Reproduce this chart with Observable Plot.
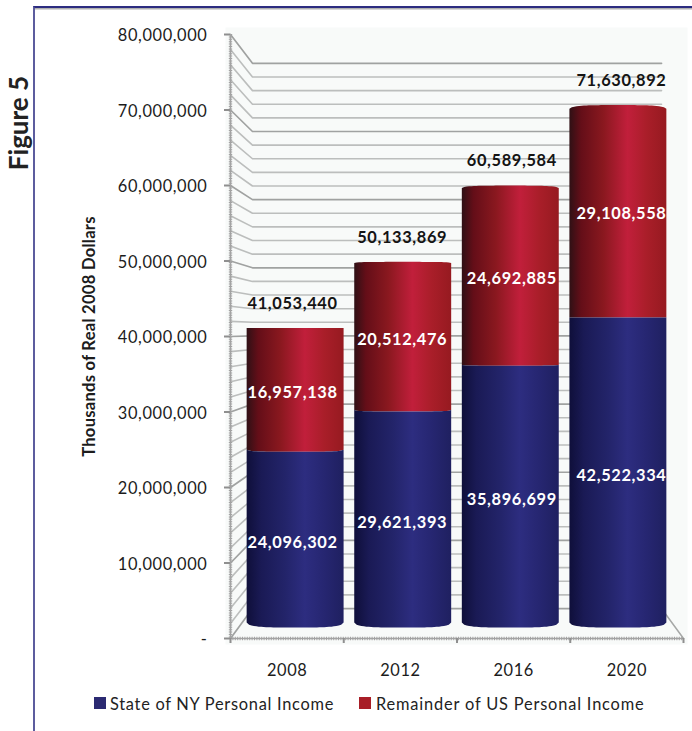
<!DOCTYPE html>
<html>
<head>
<meta charset="utf-8">
<script src="https://cdn.jsdelivr.net/npm/d3@7"></script>
<script src="https://cdn.jsdelivr.net/npm/@observablehq/plot@0.6"></script>
<style>
  html, body { margin: 0; padding: 0; background: #fff; }
  body { position: relative; width: 692px; height: 731px; overflow: hidden; font-family: Lato, "Open Sans", sans-serif; color: #1c1c1c; }
  #chart { position: absolute; left: 0; top: 0; }
  #chart svg { letter-spacing: 0.62px; }
  #chart [aria-label="y-axis label"] { font-weight: 700; font-size: 16.6px; letter-spacing: 0.25px; }
  #chart [aria-label="y-axis tick label"] { translate: 0 1.5px; }
  .sheet { position: absolute; left: 33px; top: 6px; right: 0; bottom: 0; border-top: 2px solid #2c2c80; border-left: 2.5px solid #5c5c9e; box-shadow: inset 0 1.5px 0 #b0b0b0; }
  .figure { position: absolute; left: 18px; top: 123px; transform: translate(-50%, -50%) rotate(-90deg); font-weight: 700; font-size: 26px; white-space: nowrap; color: #222; }
  .swatch { position: absolute; top: 697px; width: 11.5px; height: 12px; }
  .entry { position: absolute; top: 694px; font-size: 16.4px; letter-spacing: 0.72px; white-space: nowrap; color: #222; }
</style>
</head>
<body>
<div class="sheet"></div>
<div class="figure">Figure 5</div>
<div id="chart"></div>
<div class="swatch" style="left:94px;background:#2b2a72"></div>
<div class="entry" style="left:110px">State of NY Personal Income</div>
<div class="swatch" style="left:359px;background:#a81e27"></div>
<div class="entry" style="left:376px;letter-spacing:0.82px">Remainder of US Personal Income</div>
<script>
const years = ["2008", "2012", "2016", "2020"];
const nyIncome = [24096302, 29621393, 35896699, 42522334];
const usRemainder = [16957138, 20512476, 24692885, 29108558];
const totals = [41053440, 50133869, 60589584, 71630892];

const yTicks = d3.range(0, 80000001, 10000000);
const wallLevels = d3.range(0, 80000001, 2000000);

// Pseudo-3D box: each depth plane shrinks toward the centre of the x domain
// and maps a value onto the height it reaches on the front-plane y scale.
const slotX = k => s => 2 + (s - 2) * k;
const backX = slotX(0.903), barX = slotX(0.95), labelX = slotX(0.968);
const backY = v => 3.97e6 + 0.9026 * v;
const barY = v => 1.39e6 + 0.966 * v;

// The cylinder's rim curves down at the base and up near the top of the chart.
const rim = v => (5 * (1 - v / 41e6)) / 7.55e-6;
const halfWidth = 0.428;
const cylinderEdge = d3.range(-1, 1.0001, 0.05);

function cylinder(i, lo, hi, key) {
  return cylinderEdge.map(t => {
    const bulge = 1 - Math.pow(Math.max(0, 1 - t * t * t * t), 0.5);
    return {
      key: key + i,
      x: barX(i + 0.5) + t * halfWidth,
      lo: barY(lo) + rim(lo) * bulge,
      hi: barY(hi) + rim(hi) * bulge
    };
  });
}
const redBars = years.flatMap((_, i) => cylinder(i, nyIncome[i], totals[i], "us"));
const blueBars = years.flatMap((_, i) => cylinder(i, 0, nyIncome[i], "ny"));

const table = years.map((year, i) => ({
  year,
  slot: i + 0.5,
  x: labelX(i + 0.5),
  ny: nyIncome[i],
  us: usRemainder[i],
  total: totals[i],
  nyMid: barY(nyIncome[i] / 2),
  usMid: barY(nyIncome[i] + usRemainder[i] / 2),
  top: barY(totals[i])
}));

const wallPaths = wallLevels.flatMap(v => [
  { v, x: 0, y: v, major: v % 10000000 === 0 },
  { v, x: backX(0), y: backY(v), major: v % 10000000 === 0 },
  { v, x: backX(4), y: backY(v), major: v % 10000000 === 0 }
]);

const fmt = d3.format(",");
const plot = Plot.plot({
  width: 692,
  height: 731,
  marginLeft: 230,
  marginRight: 9,
  marginTop: 34,
  marginBottom: 93,
  style: { background: "transparent", fontFamily: "Lato, 'Open Sans', sans-serif", color: "#1c1c1c", overflow: "visible" },
  x: { domain: [0, 4], axis: null },
  y: { domain: [0, 80000000], axis: null },
  marks: [
    Plot.frame({ fill: "#f8faf9", stroke: null, insetLeft: -5, insetRight: -4, insetTop: -7, insetBottom: -6 }),
    Plot.line(wallPaths.filter(d => !d.major), { x: "x", y: "y", z: "v", stroke: "#bcbebd", strokeWidth: 1.6 }),
    Plot.line(wallPaths.filter(d => d.major), { x: "x", y: "y", z: "v", stroke: "#a0a2a1", strokeWidth: 1.7 }),
    // Right edge of the floor
    Plot.line([{ x: 4, y: 0 }, { x: backX(4), y: backY(0) }], { x: "x", y: "y", stroke: "#a6a8a7", strokeWidth: 1.5 }),

    // Axis lines with their fine minor-tick texture
    Plot.ruleX([0], { stroke: "#a3a3a3", strokeWidth: 1.6 }),
    Plot.ruleX([0], { stroke: "#a3a3a3", strokeWidth: 3.4, strokeDasharray: "1,1.4" }),
    Plot.ruleY([0], { stroke: "#a3a3a3", strokeWidth: 1.6 }),
    Plot.ruleY([0], { stroke: "#a3a3a3", strokeWidth: 3.4, strokeDasharray: "1,1.4" }),

    Plot.areaY(redBars, { x: "x", y1: "lo", y2: "hi", z: "key", fill: "url(#cylRed)", curve: "linear" }),
    Plot.areaY(blueBars, { x: "x", y1: "lo", y2: "hi", z: "key", fill: "url(#cylBlue)", curve: "linear" }),

    Plot.axisY({
      ticks: yTicks,
      tickSize: 6,
      tickPadding: 17,
      fontSize: 16.4,
      stroke: "#8f8f8f",
      strokeWidth: 2,
      tickFormat: d => (d === 0 ? "-" : fmt(d)),
      label: "Thousands of Real 2008 Dollars",
      labelAnchor: "center",
      labelArrow: "none",
      labelOffset: 147
    }),
    Plot.axisX({ ticks: [0, 1, 2, 3, 4], tickSize: 5, stroke: "#8f8f8f", strokeWidth: 2, tickFormat: () => "", label: null }),
    Plot.text(table, { x: "slot", y: 0, text: "year", dy: 32, fontSize: 16.4, fill: "#1c1c1c" }),

    Plot.text(table, { x: "x", y: "top", text: d => fmt(d.total), dy: -25, fontSize: 16.4, fontWeight: 700, fill: "#141414" }),
    Plot.text(table, { x: "x", y: "usMid", text: d => fmt(d.us), dy: 2.5, fontSize: 16.4, fontWeight: 700, fill: "#ffffff" }),
    Plot.text(table, { x: "x", y: "nyMid", text: d => fmt(d.ny), dy: 2.5, fontSize: 16.4, fontWeight: 700, fill: "#ffffff" })
  ]
});

// Horizontal shading that gives the bars their rounded look
const gradients = {
  cylRed: [[0, "#2f1015"], [0.12, "#640e18"], [0.35, "#8a181f"], [0.6, "#c11f3b"], [0.8, "#a91e29"], [1, "#961a20"]],
  cylBlue: [[0, "#0f0f3a"], [0.15, "#1a1a55"], [0.4, "#23246a"], [0.6, "#2d2d80"], [0.8, "#262671"], [1, "#1f2060"]]
};
const defs = d3.select(plot).insert("defs", ":first-child");
for (const [id, stops] of Object.entries(gradients)) {
  const grad = defs.append("linearGradient").attr("id", id).attr("x1", 0).attr("x2", 1).attr("y1", 0).attr("y2", 0);
  for (const [offset, color] of stops) grad.append("stop").attr("offset", offset).attr("stop-color", color);
}
document.getElementById("chart").append(plot);
</script>
</body>
</html>
